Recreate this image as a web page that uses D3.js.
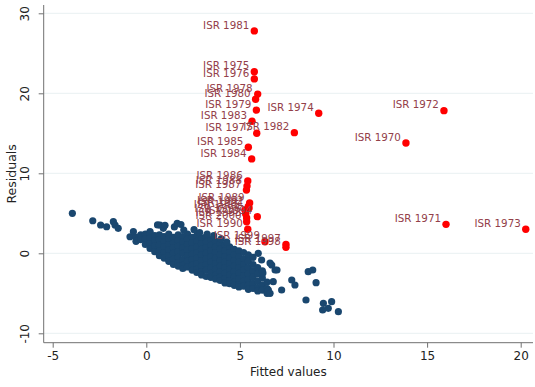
<!DOCTYPE html>
<html>
<head>
<meta charset="utf-8">
<script src="https://cdn.jsdelivr.net/npm/d3@7"></script>
<style>
  body { margin: 0; background: #fff; }
  text { font-family: "DejaVu Sans", sans-serif; }
</style>
</head>
<body>
<svg id="chart" width="535" height="387"></svg>
<script>
// tick values
var xTicks = [-5, 0, 5, 10, 15, 20];
var yTicks = [-10, 0, 10, 20, 30];

// labelled country (ISR), one value per year
var isrYears = [1970, 1971, 1972, 1973, 1974, 1975, 1976, 1977, 1978, 1979, 1980,
  1981, 1982, 1983, 1984, 1985, 1986, 1987, 1988, 1989, 1990,
  1991, 1992, 1993, 1994, 1995, 1996, 1997, 1998, 1999, 2000];
var isrFitted = [13.87, 16.01, 15.90, 20.27, 9.21, 5.77, 5.77, 5.90, 5.95, 5.88, 5.84,
  5.77, 7.91, 5.65, 5.63, 5.45, 5.42, 5.35, 5.38, 5.52, 5.42,
  5.49, 5.45, 5.36, 5.93, 5.27, 5.31, 7.46, 7.46, 6.34, 5.36];
var isrResid = [13.79, 3.62, 17.83, 3.0, 17.5, 22.7, 21.8, 15.0, 19.9, 17.9, 19.25,
  27.8, 15.08, 16.5, 11.8, 13.25, 9.04, 7.9, 8.4, 6.3, 3.0,
  5.66, 5.85, 4.41, 4.58, 5.41, 4.91, 1.12, 0.75, 1.45, 3.95];

// all other observations: [fitted, residual]
var otherPoints = [
  [-3.95, 5.0], [-2.86, 4.07], [-2.44, 3.54], [-2.12, 3.32], [-1.76, 3.95], [-1.67, 3.54],
  [-1.5, 3.12], [-0.87, 2.07], [-0.69, 2.7], [-0.34, 1.87], [0.2, 2.7], [0.73, 3.54], [0.91, 3.12],
  [-0.55, 2.0], [-0.55, 1.5], [-0.3, 2.3], [-0.3, 1.7],
  [-0.05, 2.4], [-0.05, 1.8], [-0.05, 1.1],
  [0.2, 2.5], [0.2, 1.9], [0.2, 1.2], [0.2, 0.6],
  [0.45, 2.2], [0.45, 1.6], [0.45, 0.9], [0.45, 0.2],
  [0.7, 2.3], [0.7, 1.7], [0.7, 1.0], [0.7, 0.3], [0.7, -0.3],
  [0.95, 2.1], [0.95, 1.4], [0.95, 0.8], [0.95, 0.1], [0.95, -0.6],
  [1.2, 2.4], [1.2, 1.8], [1.2, 1.1], [1.2, 0.4], [1.2, -0.3], [1.2, -1.0],
  [1.45, 2.0], [1.45, 1.3], [1.45, 0.7], [1.45, 0.0], [1.45, -0.7], [1.45, -1.4],
  [1.7, 2.3], [1.7, 1.6], [1.7, 0.9], [1.7, 0.2], [1.7, -0.5], [1.7, -1.2], [1.7, -1.6],
  [1.95, 2.1], [1.95, 1.4], [1.95, 0.7], [1.95, 0.0], [1.95, -0.8], [1.95, -1.5], [1.95, -1.9],
  [2.2, 2.4], [2.2, 1.8], [2.2, 1.1], [2.2, 0.4], [2.2, -0.3], [2.2, -1.0], [2.2, -1.7],
  [2.45, 2.0], [2.45, 1.3], [2.45, 0.6], [2.45, -0.1], [2.45, -0.8], [2.45, -1.5], [2.45, -2.1],
  [2.7, 2.2], [2.7, 1.5], [2.7, 0.8], [2.7, 0.1], [2.7, -0.6], [2.7, -1.3], [2.7, -2.0], [2.7, -2.4],
  [2.95, 1.9], [2.95, 1.2], [2.95, 0.5], [2.95, -0.2], [2.95, -0.9], [2.95, -1.6], [2.95, -2.3], [2.95, -2.7],
  [3.2, 2.1], [3.2, 1.4], [3.2, 0.7], [3.2, 0.0], [3.2, -0.7], [3.2, -1.4], [3.2, -2.1], [3.2, -2.9],
  [3.45, 1.7], [3.45, 1.0], [3.45, 0.3], [3.45, -0.4], [3.45, -1.1], [3.45, -1.8], [3.45, -2.5], [3.45, -3.0],
  [3.7, 1.5], [3.7, 0.8], [3.7, 0.1], [3.7, -0.6], [3.7, -1.3], [3.7, -2.0], [3.7, -2.7], [3.7, -3.2],
  [3.95, 1.2], [3.95, 0.5], [3.95, -0.2], [3.95, -0.9], [3.95, -1.6], [3.95, -2.3], [3.95, -3.0], [3.95, -3.4],
  [4.2, 1.0], [4.2, 0.3], [4.2, -0.4], [4.2, -1.1], [4.2, -1.8], [4.2, -2.5], [4.2, -3.2], [4.2, -3.7],
  [4.45, 0.8], [4.45, 0.1], [4.45, -0.6], [4.45, -1.3], [4.45, -2.0], [4.45, -2.7], [4.45, -3.4], [4.45, -3.8],
  [4.7, 0.5], [4.7, -0.2], [4.7, -0.9], [4.7, -1.6], [4.7, -2.3], [4.7, -3.0], [4.7, -3.6], [4.7, -4.0],
  [4.95, 0.3], [4.95, -0.4], [4.95, -1.1], [4.95, -1.8], [4.95, -2.5], [4.95, -3.2], [4.95, -3.9], [4.95, -4.2],
  [5.2, 0.1], [5.2, -0.7], [5.2, -1.4], [5.2, -2.1], [5.2, -2.8], [5.2, -3.5], [5.2, -4.1],
  [5.45, -0.2], [5.45, -1.0], [5.45, -1.8], [5.45, -2.6], [5.45, -3.3], [5.45, -4.0], [5.45, -4.5],
  [5.7, -0.5], [5.7, -1.4], [5.7, -2.2], [5.7, -3.0], [5.7, -3.8], [5.7, -4.4],
  [5.95, -1.8], [5.95, -2.6], [5.95, -3.5], [5.95, -4.3], [5.95, -4.7],
  [6.2, -2.2], [6.2, -3.1], [6.2, -4.0], [6.2, -4.6],
  [6.45, -3.6], [6.45, -4.4], [6.45, -5.0],
  [0.6, 3.55], [1.0, 3.5], [1.5, 3.3], [1.65, 3.75], [1.85, 3.6], [2.0, 2.9], [2.55, 2.95],
  [2.85, 2.6], [3.25, 2.4], [3.6, 2.2], [4.0, 1.8], [4.3, 1.4],
  [5.98, 0.0], [6.16, -0.84], [6.7, -1.46], [6.88, -2.09], [6.61, -1.21], [6.98, -2.09], [6.23, -2.46],
  [7.77, -3.34], [7.94, -3.96], [8.65, -2.3], [8.89, -2.09], [9.07, -3.67], [6.78, -3.55],
  [6.52, -4.59], [6.61, -5.0], [7.23, -4.59], [8.53, -5.84], [9.46, -6.25], [9.9, -6.05],
  [9.42, -7.09], [9.72, -6.88], [10.26, -7.3]
];

var svg = d3.select("#chart");

var plot = { left: 43.7, right: 533, top: 5, bottom: 342.7 };

var x = d3.scaleLinear().domain([-5, 20]).range([52.7, 520.7]);
var y = d3.scaleLinear().domain([-10, 30]).range([333.3, 13.3]);

// plain hyphen for negatives, like the original
var plainNum = function (d) { return String(d); };

// gridlines
svg.append("g")
  .selectAll("line")
  .data(yTicks)
  .enter()
  .append("line")
  .attr("x1", plot.left)
  .attr("x2", plot.right)
  .attr("y1", function (d) { return y(d); })
  .attr("y2", function (d) { return y(d); })
  .attr("stroke", "#e9f0f2")
  .attr("stroke-width", 1);

// other points
svg.append("g")
  .selectAll("circle")
  .data(otherPoints)
  .enter()
  .append("circle")
  .attr("cx", function (d) { return x(d[0]); })
  .attr("cy", function (d) { return y(d[1]); })
  .attr("r", 3.6)
  .attr("fill", "#1a476f");

// ISR points + labels
var isr = isrYears.map(function (yr, i) {
  return { label: "ISR " + yr, fx: isrFitted[i], res: isrResid[i] };
});

svg.append("g")
  .selectAll("circle")
  .data(isr)
  .enter()
  .append("circle")
  .attr("cx", function (d) { return x(d.fx); })
  .attr("cy", function (d) { return y(d.res); })
  .attr("r", 3.7)
  .attr("fill", "#ff0000");

svg.append("g")
  .selectAll("text")
  .data(isr)
  .enter()
  .append("text")
  .attr("x", function (d) { return x(d.fx) - 5; })
  .attr("y", function (d) { return y(d.res) - 2.3; })
  .attr("text-anchor", "end")
  .attr("font-size", "10.3px")
  .attr("fill", "#934049")
  .text(function (d) { return d.label; });

// X axis
var xAxisGroup = svg.append("g")
  .attr("transform", "translate(0," + plot.bottom + ")")
  .call(d3.axisBottom(x).tickValues(xTicks).tickFormat(plainNum)
    .tickSize(5).tickPadding(4).tickSizeOuter(0));
xAxisGroup.select(".domain").remove();
xAxisGroup.append("line")
  .attr("x1", plot.left).attr("x2", plot.right)
  .attr("stroke", "#707070");
xAxisGroup.selectAll(".tick line").attr("stroke", "#707070");
xAxisGroup.selectAll("text")
  .attr("font-size", "12px")
  .attr("fill", "#222")
  .style("font-family", "DejaVu Sans");

// Y axis
var yAxisGroup = svg.append("g")
  .attr("transform", "translate(" + plot.left + ",0)")
  .call(d3.axisLeft(y).tickValues(yTicks).tickFormat(plainNum)
    .tickSize(5).tickSizeOuter(0));
yAxisGroup.select(".domain").remove();
yAxisGroup.append("line")
  .attr("y1", plot.top).attr("y2", plot.bottom)
  .attr("stroke", "#707070");
yAxisGroup.selectAll(".tick line").attr("stroke", "#707070");
yAxisGroup.selectAll("text")
  .attr("transform", "rotate(-90)")
  .attr("x", 0)
  .attr("y", -14.3)
  .attr("dy", 0)
  .attr("text-anchor", "middle")
  .attr("font-size", "12px")
  .attr("fill", "#222")
  .style("font-family", "DejaVu Sans");

// axis titles
svg.append("text")
  .attr("x", (plot.left + plot.right) / 2)
  .attr("y", 376)
  .attr("text-anchor", "middle")
  .attr("font-size", "12px")
  .attr("fill", "#222")
  .text("Fitted values");

svg.append("text")
  .attr("transform", "translate(15.5," + ((plot.top + plot.bottom) / 2) + ") rotate(-90)")
  .attr("text-anchor", "middle")
  .attr("font-size", "12.5px")
  .attr("fill", "#222")
  .text("Residuals");
</script>
</body>
</html>
